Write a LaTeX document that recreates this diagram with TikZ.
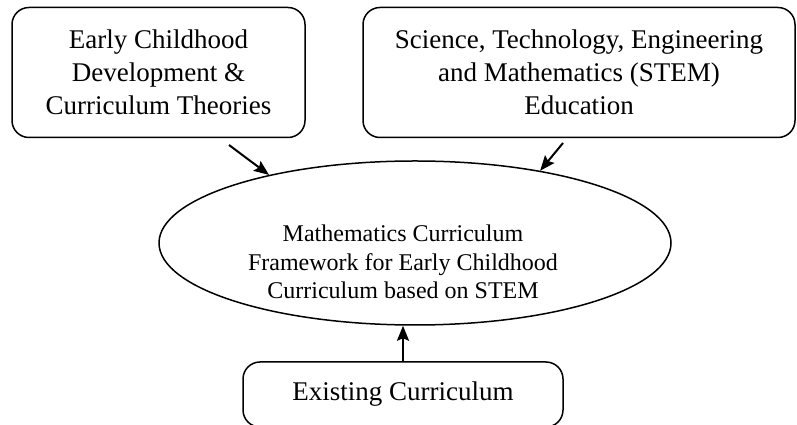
\documentclass[tikz,border=0pt]{standalone}
\usepackage{fontspec}
\setmainfont{Liberation Serif}
\usetikzlibrary{shapes.geometric,arrows.meta}
\tikzset{
  box/.style={draw,rounded corners=17pt,inner sep=0pt,align=center,font=\fontsize{27}{33}\selectfont},
  frame/.style={draw,ellipse,inner sep=0pt},
}
\begin{document}
\begin{tikzpicture}[x=1pt,y=1pt,>={Stealth[length=15pt,width=12pt,inset=2.5pt]},line width=1.5pt]
  \useasboundingbox (0,0) rectangle (797,425);
  \node[box,minimum width=293pt,minimum height=130pt] (theory) at (158.5,352.5)
    {Early Childhood\\Development \&\\Curriculum Theories};
  \node[box,minimum width=432pt,minimum height=130pt] (stem) at (579,352.5)
    {Science, Technology, Engineering\\and Mathematics (STEM)\\Education};
  \node[frame,minimum width=512pt,minimum height=164pt] (fw) at (415,182) {};
  \node[align=center,font=\fontsize{24}{28.6}\selectfont] (fwtext) at (403,163)
    {Mathematics Curriculum\\Framework for Early Childhood\\Curriculum based on STEM};
  \node[box,minimum width=320pt,minimum height=65pt] (exist) at (403,30.5)
    {Existing Curriculum};
  \coordinate (tl) at (229,280);
  \coordinate (tr) at (563,282);
  \draw[->,line width=2pt] (tl)--(fw.155.8);
  \draw[->,line width=2pt] (tr)--(fw.30.3);
  \draw[->,line width=2pt] (exist.north)--(exist.north |- fw.south);
\end{tikzpicture}
\end{document}
